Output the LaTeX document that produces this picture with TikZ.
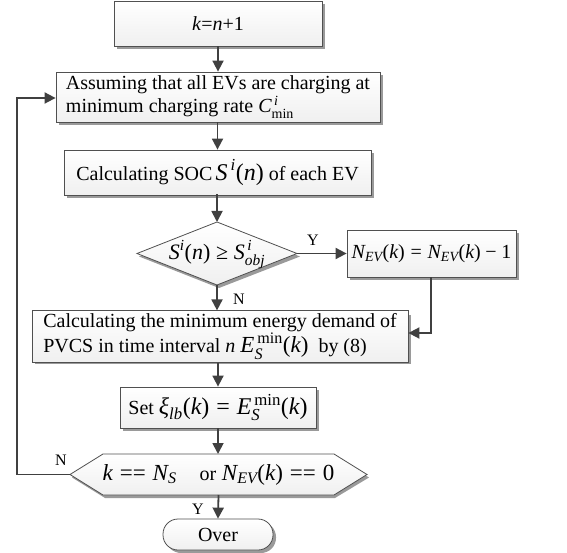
\documentclass[tikz,border=0pt]{standalone}
\usepackage{fontspec}
\setmainfont{Liberation Serif}
\usepackage{amsmath}
\usetikzlibrary{arrows.meta,shapes.misc}
\newcommand\mi[1]{\textit{#1}}
\newcommand\lp{\text{(}}
\newcommand\rp{\text{)}}
\newcommand\eqs{\mathrel{\text{=}}}
\newcommand\mns{\mathbin{\text{−}}}
\newcommand\ges{\mathrel{\text{≥}}}
\definecolor{ln}{HTML}{404040}
\definecolor{bd}{HTML}{505050}
\definecolor{shd}{HTML}{9A9A9A}
\begin{document}
\begin{tikzpicture}[x=1pt,y=-1pt,
  font=\fontsize{20}{26}\selectfont,
  boxstyle/.style={draw=bd, line width=0.8pt, top color=white, bottom color=gray!12, inner sep=3pt},
  plainnode/.style={inner sep=0pt, outer sep=0pt},
  conn/.style={draw=ln, line width=1.8pt, -{Triangle[length=11pt,width=11pt]}},
  lbl/.style={font=\fontsize{16}{18}\selectfont}]
\useasboundingbox (0,0) rectangle (567,553);

% shadows
\fill[shd] (117,4) rectangle (325,49);
\fill[shd] (59,75) rectangle (383,125);
\fill[shd] (67,153) rectangle (374,198);
\fill[shd] (350,233) rectangle (519,280);
\fill[shd] (35,315) rectangle (411,364);
\fill[shd] (123,390) rectangle (319,431);
\fill[shd] (219,225) -- (300,256.5) -- (219,288) -- (139,256.5) -- cycle;
\fill[shd] (105,457) -- (335,457) -- (369,477.5) -- (335,498) -- (105,498) -- (72,477.5) -- cycle;
\fill[shd, rounded corners=15pt] (166,522) rectangle (276,553);

% nodes
\node[boxstyle, minimum width=208pt, minimum height=45pt] (a) at (218,23.5) {\mi{k}=\mi{n}+1};
\node[boxstyle, minimum width=324pt, minimum height=50pt, align=left] (b) at (218,97)
  {Assuming that all EVs are charging at\\[-3pt] minimum charging rate $\mi{C}^{\,\mi{i}}_{\text{min}}$};
\node[boxstyle, minimum width=307pt, minimum height=45pt] (c) at (217.5,172.5)
  {Calculating SOC\,{\fontsize{24}{26}\selectfont$\mi{S}^{\,\mi{i}}\lp\mi{n}\rp$} of each EV};

\node[plainnode, minimum width=160pt, minimum height=63pt] (d) at (217,253.5) {};
\draw[bd, line width=0.8pt, top color=white, bottom color=gray!12]
  (d.north) -- (d.east) -- (d.south) -- (d.west) -- cycle;
\node at ([yshift=-1pt]d.center) {{\fontsize{22}{26}\selectfont$\mi{S}^{\mi{i}}\lp\mi{n}\rp\ges \mi{S}^{\,\mi{i}}_{\mi{obj}}$}};

\node[boxstyle, minimum width=169pt, minimum height=47pt] (e) at (431.5,253.5)
  {$\mi{N}_{\mi{EV}}\lp\mi{k}\rp\eqs\mi{N}_{\mi{EV}}\lp\mi{k}\rp\mns\text{1}$};
\node[boxstyle, minimum width=376pt, minimum height=49pt, align=left] (f) at (220,336.5)
  {Calculating the minimum energy demand of\\[-1pt] PVCS in time interval \mi{n} {\fontsize{23}{24}\selectfont$\mi{E}_{\mi{S}}^{\,\text{min}}\lp\mi{k}\rp$}\ \ by (8)};
\node[boxstyle, minimum width=196pt, minimum height=41pt] (g) at (218,407.5)
  {Set {\fontsize{24}{26}\selectfont$\mi{ξ}_{\mi{lb}}\lp\mi{k}\rp\eqs\mi{E}_{\mi{S}}^{\,\text{min}}\lp\mi{k}\rp$}};

\node[plainnode, minimum width=297pt, minimum height=41pt] (h) at (218.5,474.5) {};
\draw[bd, line width=0.8pt, top color=white, bottom color=gray!12]
  ([xshift=33pt]h.north west) -- ([xshift=-33pt]h.north east) -- (h.east)
  -- ([xshift=-33pt]h.south east) -- ([xshift=33pt]h.south west) -- (h.west) -- cycle;
\node at (h.center) {{\fontsize{23}{26}\selectfont$\mi{k}\mathrel{\text{==}}\mi{N}_{\mi{S}}$\quad{\fontsize{20}{24}\selectfont or} $\mi{N}_{\mi{EV}}\lp\mi{k}\rp\mathrel{\text{==}}\text{0}$}};

\node[boxstyle, rounded corners=15pt, minimum width=110pt, minimum height=31pt] (o) at (218,534.5) {Over};

\coordinate (ebot) at (431,333);
\coordinate (lp1) at (17,474.5);
\coordinate (lp2) at (17,98);

% connectors
\draw[conn] (a.south) -- (a.south |- b.north);
\draw[conn] (b.south -| c.north) -- (c.north);
\draw[conn] (c.south) -- (c.south -| d.north) -- (d.north);
\draw[conn] (d.east) -- (e.west);
\draw[conn] (d.south) -- (d.south |- f.north);
\draw[conn] (e.south -| ebot) -- (ebot) -- (ebot -| f.east);
\draw[conn] (f.south -| g.north) -- (g.north);
\draw[conn] (g.south) -- (g.south |- h.north);
\draw[conn] (h.south) -- (o.north);
\draw[conn] (h.west) -- (lp1) -- (lp2) -- (lp2 -| b.west);

% labels
\node[lbl] (ly1) at (313,240) {Y};
\node[lbl] (ln1) at (239,299) {N};
\node[lbl] (ln2) at (61,460) {N};
\node[lbl] (ly2) at (198,509) {Y};
\end{tikzpicture}
\end{document}
